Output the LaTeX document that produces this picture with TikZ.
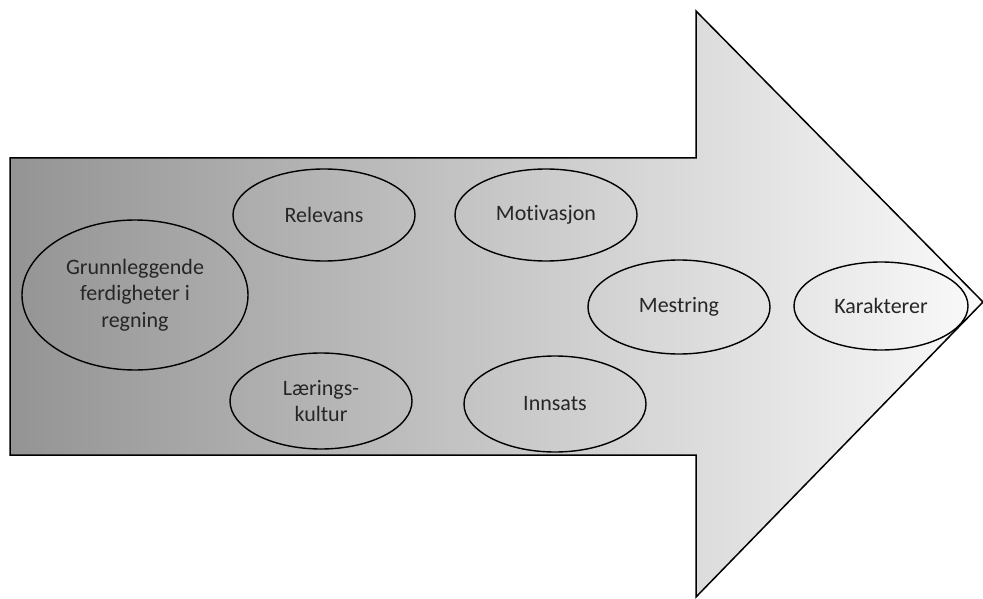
\documentclass[tikz,border=0pt]{standalone}
\usepackage{fontspec}
\setmainfont{Carlito}[Ligatures=NoCommon]
\usetikzlibrary{shapes.geometric}
\tikzset{factor/.style={draw,ellipse,line width=1.4pt,inner sep=0pt,align=center,text=black!85,
                font=\fontsize{22}{26.5}\selectfont},
         small/.style={factor,minimum width=182pt,minimum height=92pt},
        }

\begin{document}
\begin{tikzpicture}[x=1pt,y=-1pt]
        \useasboundingbox(0,0)rectangle(983,599);
        \shadedraw[left color=black!42,right color=black!2,line width=1.5pt,line join=miter]
            (10,158)--(696,158)--(696,11)--(983,302)--(696,597)--(696,455)--(10,455)--cycle;

        \node[factor, minimum width=226pt, minimum height=150pt](grunn)at(135,295){Grunnleggende\\ferdigheter i\\regning};
        \node[small](relevans)at(324,215){Relevans};
        \node[small](motivasjon)at(546,215){Motivasjon};
        \node[small, minimum height=96pt](laering)at(321,401){Lærings-\\kultur};
        \node[small, minimum height=96pt](innsats)at(555,404){Innsats};
        \node[small, minimum height=94pt](mestring)at(679,307){Mestring};
        \node[small, minimum width=174pt, minimum height=88pt](karakterer)at(881,306){Karakterer};
    \end{tikzpicture}
\end{document}
